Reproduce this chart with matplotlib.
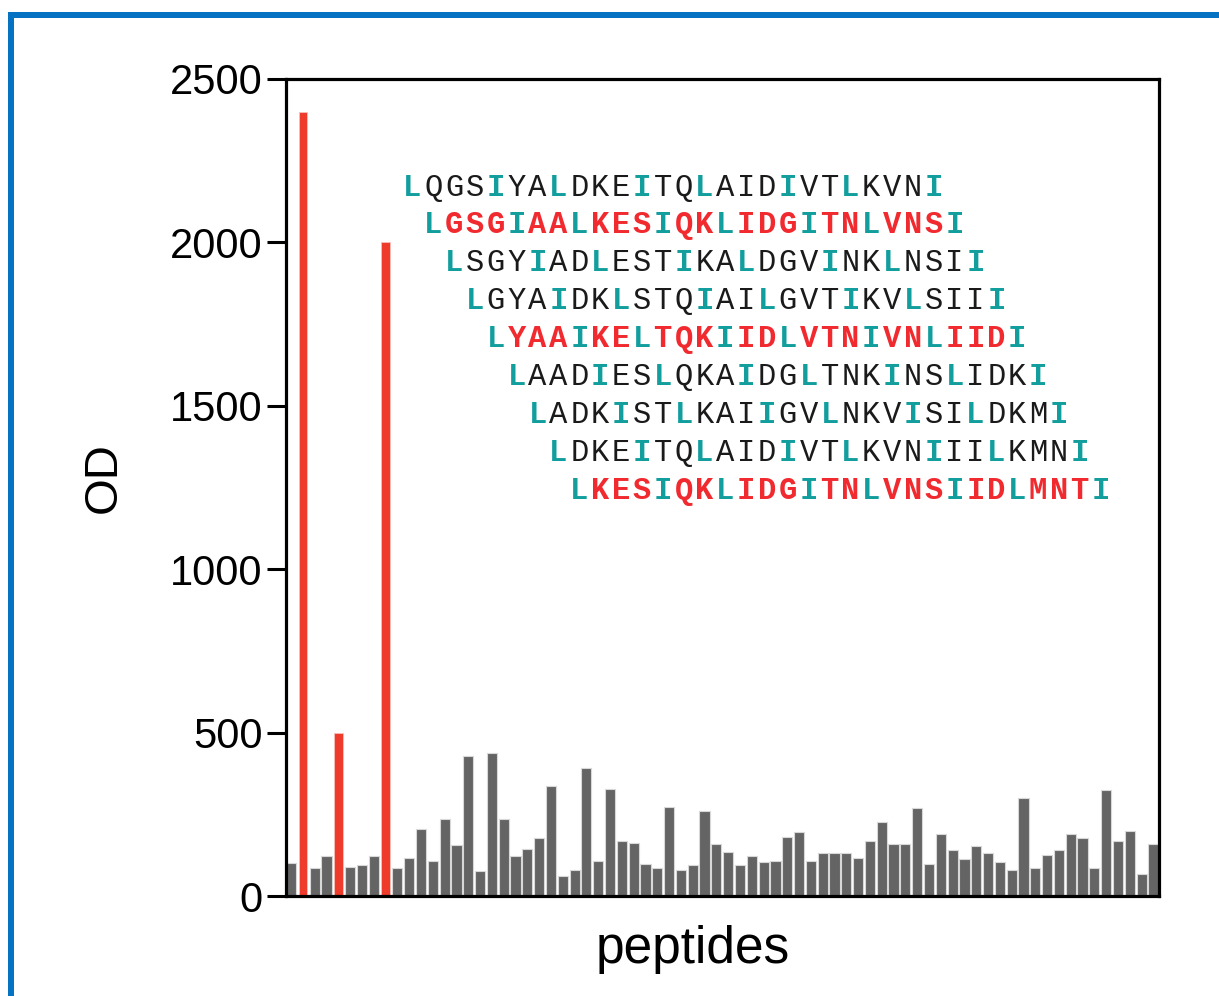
import matplotlib
matplotlib.use("Agg")
import matplotlib.pyplot as plt
from matplotlib.patches import Rectangle

# ---------------- data ----------------
od_values = [100, 2400, 85, 122, 500, 90, 95, 122, 2000, 85,
             117, 204, 108, 237, 155, 428, 75, 437, 237, 122,
             145, 176, 338, 62, 81, 392, 108, 328, 167, 163,
             99, 85, 273, 81, 94, 259, 158, 136, 95, 121,
             103, 108, 181, 195, 108, 131, 131, 131, 117, 167,
             227, 158, 158, 268, 99, 191, 140, 112, 154, 131,
             103, 81, 301, 85, 126, 140, 191, 176, 85, 323,
             167, 200, 66, 158]
highlight_idx = [1, 4, 8]

sequences = ["LQGSIYALDKEITQLAIDIVTLKVNI",
             "LGSGIAALKESIQKLIDGITNLVNSI",
             "LSGYIADLESTIKALDGVINKLNSII",
             "LGYAIDKLSTQIAILGVTIKVLSIII",
             "LYAAIKELTQKIIDLVTNIVNLIIDI",
             "LAADIESLQKAIDGLTNKINSLIDKI",
             "LADKISTLKAIIGVLNKVISILDKMI",
             "LDKEITQLAIDIVTLKVNIIILKMNI",
             "LKESIQKLIDGITNLVNSIIDLMNTI"]
highlighted_seq = [1, 4, 8]
core_positions = [0, 4, 7, 11, 14, 18, 21, 25]

yticks = [0, 500, 1000, 1500, 2000, 2500]
ylabel = "OD"
xlabel = "peptides"

# ---------------- style ----------------
W, H = 1219, 996
GRAY = "#646464"
RED = "#EE3B2B"
TEAL = "#139E9E"
TXT_RED = "#F02A2E"
BLUE = "#0572C2"

fig = plt.figure(figsize=(W / 100, H / 100), dpi=100)
fig.patch.set_facecolor("white")

# blue frame (cropped)
fig.add_artist(Rectangle((8 / W, 0), 6 / W, 1 - 12 / H, transform=fig.transFigure,
                         facecolor=BLUE, edgecolor="none"))
fig.add_artist(Rectangle((8 / W, 1 - 18 / H), 1 - 8 / W, 6 / H, transform=fig.transFigure,
                         facecolor=BLUE, edgecolor="none"))

ax_l, ax_r, ax_t, ax_b = 286, 1159, 79, 896
ax = fig.add_axes([ax_l / W, 1 - ax_b / H, (ax_r - ax_l) / W, (ax_b - ax_t) / H])

x = list(range(len(od_values)))
gray_x = [i for i in x if i not in highlight_idx]
gray_v = [od_values[i] for i in gray_x]
red_v = [od_values[i] for i in highlight_idx]

ax.bar(gray_x, gray_v, width=0.86, color=GRAY, edgecolor="#d8d8d8", linewidth=0.8, zorder=2)
ax.bar(highlight_idx, red_v, width=0.72, color=RED, edgecolor="#f7c0b8", linewidth=0.6, zorder=2)

ax.set_xlim(-0.43, len(od_values) - 1 + 0.47)
ax.set_ylim(0, 2500)
ax.set_yticks(yticks)
ax.set_yticklabels([str(t) for t in yticks], fontsize=30, family="Liberation Sans")
ax.set_xticks([])
ax.tick_params(axis="y", direction="out", length=14, width=2.2, pad=3, colors="black")
for s in ax.spines.values():
    s.set_linewidth(2.3)
    s.set_color("black")

ax.set_ylabel(ylabel, fontsize=34, family="Liberation Sans")
ax.yaxis.set_label_coords((126 - ax_l) / (ax_r - ax_l), (ax_b - 478) / (ax_b - ax_t))
ax.set_xlabel(xlabel, fontsize=37, family="Liberation Sans")
ax.xaxis.set_label_coords((693 - ax_l) / (ax_r - ax_l), -(925 - ax_b) / (ax_b - ax_t))

# sequence alignment text
pitch = 20.85
x0 = 412.5
y0 = 195.5
row_step = 37.9
for r, seq in enumerate(sequences):
    is_red = r in highlighted_seq
    yb = y0 + r * row_step
    for c, ch in enumerate(seq):
        if c in core_positions:
            col, wt = TEAL, "bold"
        elif is_red:
            col, wt = TXT_RED, "bold"
        else:
            col, wt = "#1a1a1a", "normal"
        xc = x0 + (r + c) * pitch
        fig.text(xc / W, 1 - yb / H, ch, ha="center", va="baseline",
                 fontsize=22, family="Liberation Mono", color=col, fontweight=wt)

fig.savefig("out.png", dpi=100, facecolor="white")
